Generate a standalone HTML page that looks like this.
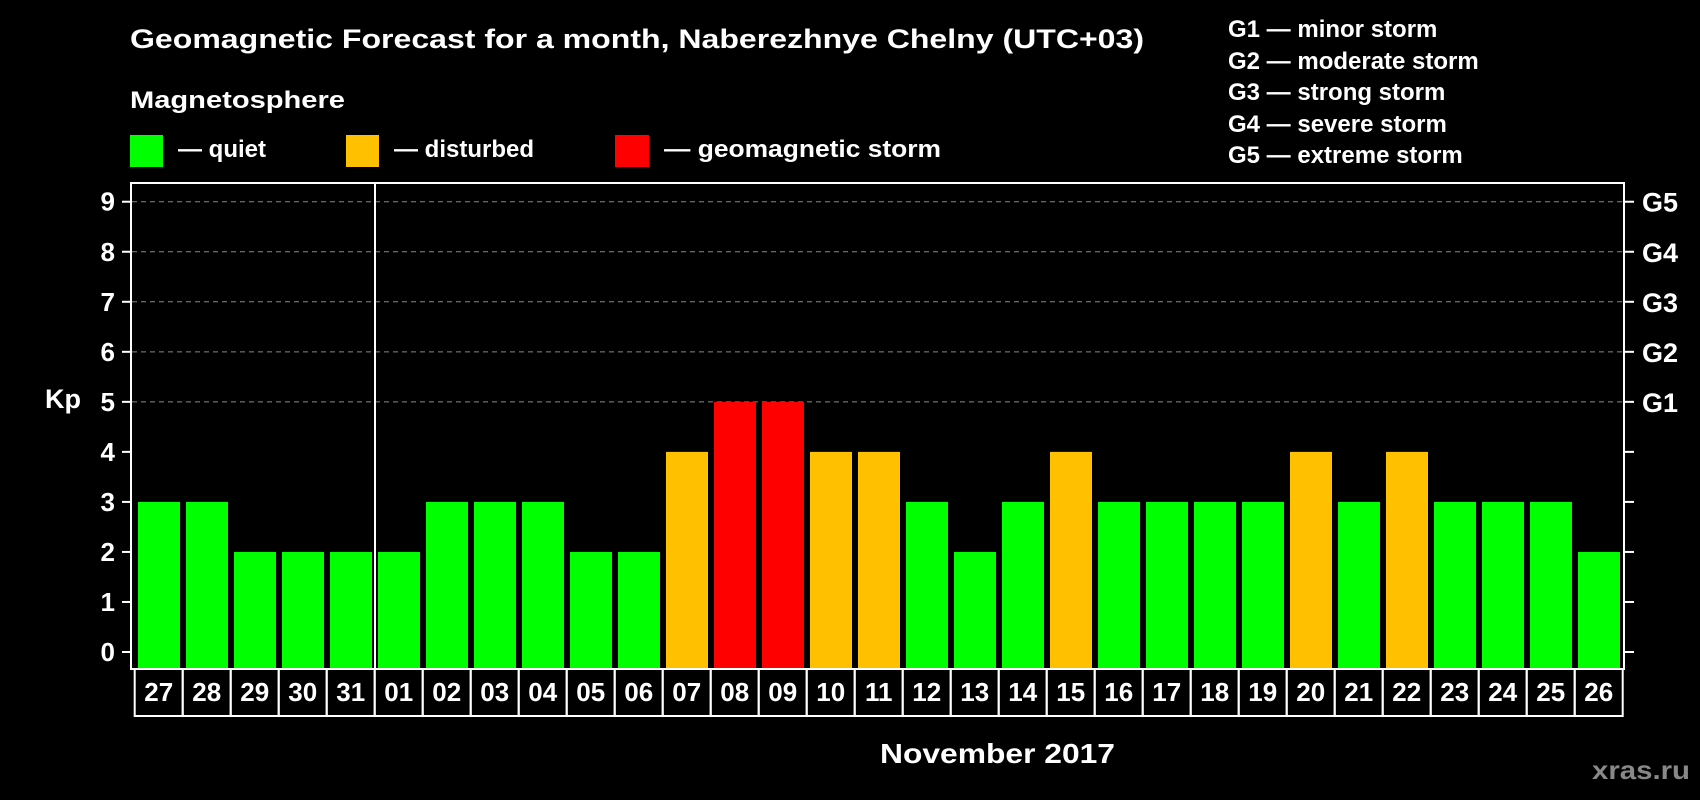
<!DOCTYPE html>
<html><head><meta charset="utf-8"><style>
html,body{margin:0;padding:0;background:#000;}
svg{display:block;font-family:"Liberation Sans",Arial,sans-serif;font-weight:bold;}
</style></head><body>
<svg id="chart" width="1700" height="800" viewBox="0 0 1700 800">
<text x="130" y="48" font-size="27" fill="#fff" textLength="1014" lengthAdjust="spacingAndGlyphs">Geomagnetic Forecast for a month, Naberezhnye Chelny (UTC+03)</text>
<text x="130" y="108" font-size="24" fill="#fff" textLength="215" lengthAdjust="spacingAndGlyphs">Magnetosphere</text>
<g><rect x="130" y="135" width="33" height="32" fill="#00ff00"/><text x="178" y="157" font-size="24" fill="#fff">— quiet</text></g>
<g><rect x="346" y="135" width="33" height="32" fill="#ffc000"/><text x="394" y="157" font-size="24" fill="#fff">— disturbed</text></g>
<g><rect x="615" y="135" width="34" height="32" fill="#ff0000"/><text x="664" y="157" font-size="24" fill="#fff" textLength="277" lengthAdjust="spacingAndGlyphs">— geomagnetic storm</text></g>
<g font-size="24" fill="#fff">
<text x="1228" y="37">G1 — minor storm</text>
<text x="1228" y="69">G2 — moderate storm</text>
<text x="1228" y="100">G3 — strong storm</text>
<text x="1228" y="132">G4 — severe storm</text>
<text x="1228" y="163">G5 — extreme storm</text>
</g>
<g id="grid"></g>
<g id="bars"></g>
<rect x="131" y="183" width="1493" height="486" fill="none" stroke="#fff" stroke-width="2"/>
<line x1="375" y1="183" x2="375" y2="669" stroke="#fff" stroke-width="2"/>
<g id="yaxis"></g>
<g id="xaxis"></g>
<text x="45" y="408" font-size="27" fill="#fff">Kp</text>
<text x="880" y="763" font-size="28" fill="#fff" textLength="235" lengthAdjust="spacingAndGlyphs">November 2017</text>
<text x="1592" y="779" font-size="26" fill="#888" textLength="98" lengthAdjust="spacingAndGlyphs">xras.ru</text>
</svg>
<script>
const days = ["27","28","29","30","31","01","02","03","04","05","06","07","08","09","10","11","12","13","14","15","16","17","18","19","20","21","22","23","24","25","26"];
const kpValues = [3,3,2,2,2,2,3,3,3,2,2,4,5,5,4,4,3,2,3,4,3,3,3,3,4,3,4,3,3,3,2];
const yTicks = [0,1,2,3,4,5,6,7,8,9];
const gLabels = ["","","","","","G1","G2","G3","G4","G5"];
const NS = "http://www.w3.org/2000/svg";
function y(v){return 652 - v*50.03;}
function x(i){return 138 + i*48;}
const plotBottom = 669;
function mk(tag, attrs, parent, txt){const e=document.createElementNS(NS,tag);for(const k in attrs)e.setAttribute(k,attrs[k]);if(txt!==undefined)e.textContent=txt;parent.appendChild(e);return e;}
const grid=document.getElementById('grid'), bars=document.getElementById('bars'), ya=document.getElementById('yaxis'), xa=document.getElementById('xaxis');
yTicks.forEach((t,i)=>{
  const yy=y(t);
  if(t>=5){const g=mk('line',{x1:132,x2:1623,y1:yy,y2:yy,stroke:'#888','stroke-width':1,'stroke-dasharray':'5,4'},grid);
  
  }
  const tl=mk('line',{x1:122,x2:131,y1:yy,y2:yy,stroke:'#fff','stroke-width':2},ya);
  
  
  const tr=mk('line',{x1:1624,x2:1634,y1:yy,y2:yy,stroke:'#fff','stroke-width':2},ya);
  
  
  const lb=mk('text',{x:115,y:yy+9,'font-size':26,fill:'#fff','text-anchor':'end'},ya,String(t));
  
  
  if(gLabels[i]){const gl=mk('text',{x:1642,y:yy+10,'font-size':27,fill:'#fff'},ya,gLabels[i]);
  
  }
});
kpValues.forEach((v,i)=>{
  const col = v>=5?'#ff0000':(v>=4?'#ffc000':'#00ff00');
  const top=y(v);
  const r=mk('rect',{x:x(i),y:top,width:42,height:plotBottom-1-top,fill:col},bars);
  
  
});
days.forEach((d,i)=>{
  const bx=134.7+i*48;
  const b=mk('rect',{x:bx,y:669,width:48,height:47,fill:'none',stroke:'#fff','stroke-width':2},xa);
  
  
  const t=mk('text',{x:bx+24,y:701,'font-size':26,fill:'#fff','text-anchor':'middle'},xa,d);
  
  
});
</script>
</body></html>
